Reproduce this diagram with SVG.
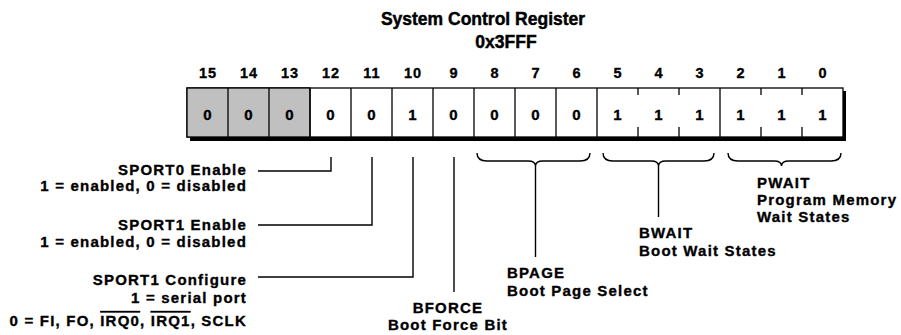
<svg xmlns="http://www.w3.org/2000/svg" width="901" height="335" viewBox="0 0 901 335">
<style>
text{font-family:"Liberation Sans",Arial,Helvetica,sans-serif;font-weight:bold;fill:#000;stroke:#000;stroke-width:0.35px}
.title{font-size:17.5px;text-anchor:middle;stroke-width:0.45px}
.bitn{font-size:14.5px;text-anchor:middle;letter-spacing:1px}
.val{font-size:15px;text-anchor:middle}
.lbl{font-size:15px;letter-spacing:1.2px}
.r{text-anchor:end}
.m{text-anchor:middle}
.ln{fill:none;stroke:#000;stroke-width:1.4}
.cell{stroke:#000;stroke-width:1.3}
</style>
<rect width="901" height="335" fill="#fff"/>
<g id="title">
<text class="title" x="483" y="25">System Control Register</text>
<text class="title" x="506" y="48">0x3FFF</text>
</g>
<g id="register">
<rect x="190" y="91" width="656" height="50" fill="#000"/>
<rect x="187" y="88" width="656" height="49" fill="#fff" class="cell"/>
<rect x="187" y="88" width="123" height="49" fill="#c0c0c0" class="cell"/>
<g class="cell">
<line x1="228" y1="88" x2="228" y2="137"/>
<line x1="269" y1="88" x2="269" y2="137"/>
<line x1="310" y1="88" x2="310" y2="137"/>
<line x1="351" y1="88" x2="351" y2="137"/>
<line x1="392" y1="88" x2="392" y2="137"/>
<line x1="433" y1="88" x2="433" y2="137"/>
<line x1="474" y1="88" x2="474" y2="137"/>
<line x1="515" y1="88" x2="515" y2="137"/>
<line x1="556" y1="88" x2="556" y2="137"/>
<line x1="597" y1="88" x2="597" y2="137"/>
<line x1="720" y1="88" x2="720" y2="137"/>
<line x1="638" y1="88" x2="638" y2="95"/>
<line x1="638" y1="127" x2="638" y2="137"/>
<line x1="679" y1="88" x2="679" y2="95"/>
<line x1="679" y1="127" x2="679" y2="137"/>
<line x1="761" y1="88" x2="761" y2="95"/>
<line x1="761" y1="127" x2="761" y2="137"/>
<line x1="802" y1="88" x2="802" y2="95"/>
<line x1="802" y1="127" x2="802" y2="137"/>
</g>
<g>
<text class="bitn" x="208" y="78">15</text>
<text class="bitn" x="249" y="78">14</text>
<text class="bitn" x="290" y="78">13</text>
<text class="bitn" x="331" y="78">12</text>
<text class="bitn" x="372" y="78">11</text>
<text class="bitn" x="413" y="78">10</text>
<text class="bitn" x="454" y="78">9</text>
<text class="bitn" x="495" y="78">8</text>
<text class="bitn" x="536" y="78">7</text>
<text class="bitn" x="577" y="78">6</text>
<text class="bitn" x="618" y="78">5</text>
<text class="bitn" x="659" y="78">4</text>
<text class="bitn" x="700" y="78">3</text>
<text class="bitn" x="741" y="78">2</text>
<text class="bitn" x="782" y="78">1</text>
<text class="bitn" x="823" y="78">0</text>
</g>
<g>
<text class="val" x="207.5" y="120">0</text>
<text class="val" x="248.5" y="120">0</text>
<text class="val" x="289.5" y="120">0</text>
<text class="val" x="330.5" y="120">0</text>
<text class="val" x="371.5" y="120">0</text>
<text class="val" x="412.5" y="120">1</text>
<text class="val" x="453.5" y="120">0</text>
<text class="val" x="494.5" y="120">0</text>
<text class="val" x="535.5" y="120">0</text>
<text class="val" x="576.5" y="120">0</text>
<text class="val" x="617.5" y="120">1</text>
<text class="val" x="658.5" y="120">1</text>
<text class="val" x="699.5" y="120">1</text>
<text class="val" x="740.5" y="120">1</text>
<text class="val" x="781.5" y="120">1</text>
<text class="val" x="822.5" y="120">1</text>
</g>
</g>
<g id="connectors" class="ln">
<polyline points="331,157 331,171 258,171"/>
<polyline points="372,157 372,225 258,225"/>
<polyline points="413,157 413,277 258,277"/>
<line x1="454" y1="157" x2="454" y2="292"/>
<path d="M477,153 Q477,161 487,161 L528,161 Q535.5,161 535.5,166 Q535.5,161 543,161 L580,161 Q590,161 590,153"/>
<line x1="535.5" y1="166" x2="535.5" y2="257"/>
<path d="M603,153 Q603,161 613,161 L651,161 Q658.5,161 658.5,166 Q658.5,161 666,161 L704,161 Q714,161 714,153"/>
<line x1="658.5" y1="166" x2="658.5" y2="217"/>
<path d="M728,153 Q728,161 738,161 L774,161 Q781.5,161 781.5,166 Q781.5,161 789,161 L831,161 Q841,161 841,153"/>
</g>
<g id="sport0">
<text class="lbl r" x="247" y="175">SPORT0 Enable</text>
<text class="lbl r" x="247" y="191">1 = enabled, 0 = disabled</text>
</g>
<g id="sport1en">
<text class="lbl r" x="247" y="230">SPORT1 Enable</text>
<text class="lbl r" x="247" y="247">1 = enabled, 0 = disabled</text>
</g>
<g id="sport1cfg">
<text class="lbl r" x="247" y="285">SPORT1 Configure</text>
<text class="lbl r" x="247" y="303">1 = serial port</text>
<text class="lbl r" x="247" y="326">0 = FI, FO, <tspan text-decoration="overline">IRQ0</tspan>, <tspan text-decoration="overline">IRQ1</tspan>, SCLK</text>
</g>
<g id="bforce">
<text class="lbl m" x="448" y="313">BFORCE</text>
<text class="lbl m" x="448" y="330">Boot Force Bit</text>
</g>
<g id="bpage">
<text class="lbl" x="507" y="278">BPAGE</text>
<text class="lbl" x="507" y="296">Boot Page Select</text>
</g>
<g id="bwait">
<text class="lbl" x="639" y="238">BWAIT</text>
<text class="lbl" x="639" y="256">Boot Wait States</text>
</g>
<g id="pwait">
<text class="lbl" x="757" y="188">PWAIT</text>
<text class="lbl" x="757" y="205">Program Memory</text>
<text class="lbl" x="757" y="222">Wait States</text>
</g>
</svg>
